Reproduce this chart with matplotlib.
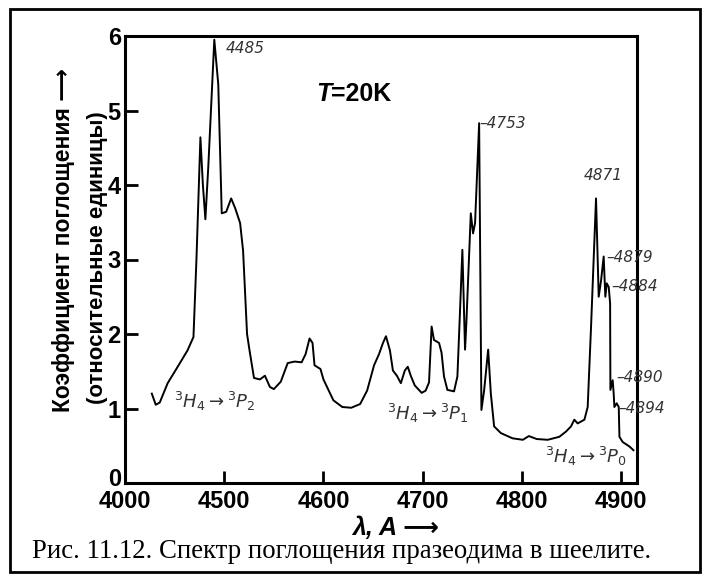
import matplotlib
matplotlib.use("Agg")
from matplotlib import pyplot as plt
from matplotlib.patches import Rectangle
from matplotlib.transforms import ScaledTranslation

# absorption spectrum (wavelength in A, relative units)
wavelength = [
    4427, 4431, 4435, 4443, 4454, 4463, 4469, 4472, 4476, 4478.5,
    4481, 4484, 4490, 4494, 4497.5, 4502, 4507, 4511, 4516, 4519,
    4523, 4525.5, 4530, 4536, 4541, 4546, 4550, 4557, 4564, 4571,
    4578, 4582, 4586, 4589, 4591, 4597, 4600, 4610, 4619, 4628,
    4637, 4644, 4651, 4656, 4660, 4663, 4667, 4670, 4674, 4678,
    4682, 4685, 4688, 4692, 4699, 4703, 4706.4, 4709, 4711.4, 4716.5,
    4719, 4721.5, 4724.9, 4731.6, 4735, 4737.4, 4740, 4742.7, 4744, 4748.5,
    4750.8, 4752.8, 4756.9, 4759.2, 4762, 4766, 4768.7, 4772, 4778.8, 4790.5,
    4801, 4807, 4815, 4826, 4837.7, 4844.4, 4849.5, 4852.8, 4856.2, 4863,
    4866.3, 4869.7, 4874.7, 4877.4, 4879.8, 4882.4, 4884.1, 4885.5, 4887.5, 4888.9,
    4889.2, 4891.5, 4892.5, 4893.2, 4895.5, 4897.6, 4898.3, 4901.6, 4908.4, 4912.4,
]
absorption = [
    1.20, 1.05, 1.08, 1.34, 1.58, 1.78, 1.96, 3.00, 4.64, 4.00,
    3.54, 4.26, 5.95, 5.35, 3.62, 3.64, 3.82, 3.69, 3.49, 3.12,
    2.00, 1.78, 1.41, 1.39, 1.44, 1.29, 1.26, 1.36, 1.61, 1.63,
    1.62, 1.73, 1.94, 1.88, 1.58, 1.53, 1.39, 1.11, 1.02, 1.01,
    1.06, 1.24, 1.58, 1.73, 1.88, 1.97, 1.78, 1.51, 1.44, 1.34,
    1.51, 1.56, 1.44, 1.31, 1.21, 1.24, 1.35, 2.10, 1.92, 1.88,
    1.75, 1.43, 1.25, 1.23, 1.43, 2.23, 3.13, 1.79, 2.14, 3.62,
    3.35, 3.49, 4.83, 0.98, 1.25, 1.79, 1.20, 0.76, 0.67, 0.60,
    0.58, 0.63, 0.59, 0.58, 0.62, 0.69, 0.76, 0.85, 0.80, 0.85,
    1.02, 2.10, 3.82, 2.50, 2.72, 3.04, 2.50, 2.68, 2.63, 2.41,
    1.25, 1.38, 1.20, 1.02, 1.07, 1.02, 0.62, 0.55, 0.49, 0.44,
]

# tick positions and the labels printed under them (first one is printed as 4000)
x_ticks = [4400, 4500, 4600, 4700, 4800, 4900]
x_tick_labels = ["4000", "4500", "4600", "4700", "4800", "4900"]
y_ticks = [0, 1, 2, 3, 4, 5, 6]

# line labels: text, (wavelength, value) of the anchor
line_labels = ["4485", "–4753", "4871", "–4879", "–4884", "–4890", "–4894"]
line_anchor_x = [4521, 4757.5, 4882, 4885.5, 4890.5, 4895.5, 4897.5]
line_anchor_y = [5.83, 4.83, 4.13, 3.03, 2.64, 1.41, 1.00]

transitions = [r"$^3H_4\rightarrow{}^3P_2$", r"$^3H_4\rightarrow{}^3P_1$", r"$^3H_4\rightarrow{}^3P_0$"]
transition_x = [4490, 4705, 4864]
transition_y = [1.09, 0.93, 0.35]

fig = plt.figure(figsize=(7.08, 5.78), dpi=100)
ax = fig.add_axes([125 / 708, 95 / 578, 512 / 708, 447 / 578])

ax.plot(wavelength, absorption, color="black", lw=1.4)

ax.set_xlim(4400, 4916)
ax.set_ylim(0, 6)
ax.set_xticks(x_ticks)
ax.set_xticklabels(x_tick_labels)
ax.set_yticks(y_ticks)
for lab in ax.get_xticklabels() + ax.get_yticklabels():
    lab.set_fontfamily("Liberation Sans")
    lab.set_fontweight("bold")
    lab.set_fontsize(17)
ax.tick_params(direction="in", length=9, width=2)
ax.tick_params(axis="x", pad=5)
ax.tick_params(axis="y", pad=3)
# the "0" sits a little higher, just above the 4000
zero = ax.get_yticklabels()[0]
zero.set_transform(zero.get_transform() + ScaledTranslation(0, 6 / 100, fig.dpi_scale_trans))
for s in ax.spines.values():
    s.set_linewidth(2.2)

for t, lx, ly in zip(line_labels, line_anchor_x, line_anchor_y):
    ha = "center" if not t.startswith("–") else "left"
    ax.text(lx, ly, t, ha=ha, va="center", fontsize=11, style="italic",
            color="#333333", clip_on=False)

for t, tx, ty in zip(transitions, transition_x, transition_y):
    ax.text(tx, ty, t, ha="center", va="center", fontsize=13, color="#333333")

tt = fig.text(316 / 708, 1 - 101 / 578, "T", fontsize=18, fontweight="bold",
              style="italic", family="Liberation Sans", va="baseline")
ax.annotate("=20K", xy=(1, 0), xycoords=tt, va="bottom", fontsize=18,
            fontweight="bold", family="Liberation Sans")

# axis titles
fig.text(64 / 708, 1 - 240 / 578, "Коэффициент поглощения ⟶", rotation=90,
         ha="center", va="center", fontsize=16.5, fontweight="bold",
         family=["Liberation Sans", "DejaVu Sans"])
fig.text(98 / 708, 1 - 258 / 578, "(относительные единицы)", rotation=90,
         ha="center", va="center", fontsize=16, fontweight="bold",
         family="Liberation Sans")
fig.text(396 / 708, 1 - 528 / 578, "λ, A ⟶", ha="center", va="center",
         fontsize=18, fontweight="bold", style="italic",
         family=["Liberation Sans", "DejaVu Sans"])

fig.text(32 / 708, 1 - 551 / 578,
         "Рис. 11.12. Спектр поглощения празеодима в шеелите.",
         ha="left", va="center", fontsize=19.3, family="Liberation Serif")

fig.patches.append(Rectangle((10 / 708, 6 / 578), 690 / 708, 563 / 578,
                             transform=fig.transFigure, fill=False,
                             edgecolor="black", lw=2))

fig.savefig("out.png", dpi=100)
